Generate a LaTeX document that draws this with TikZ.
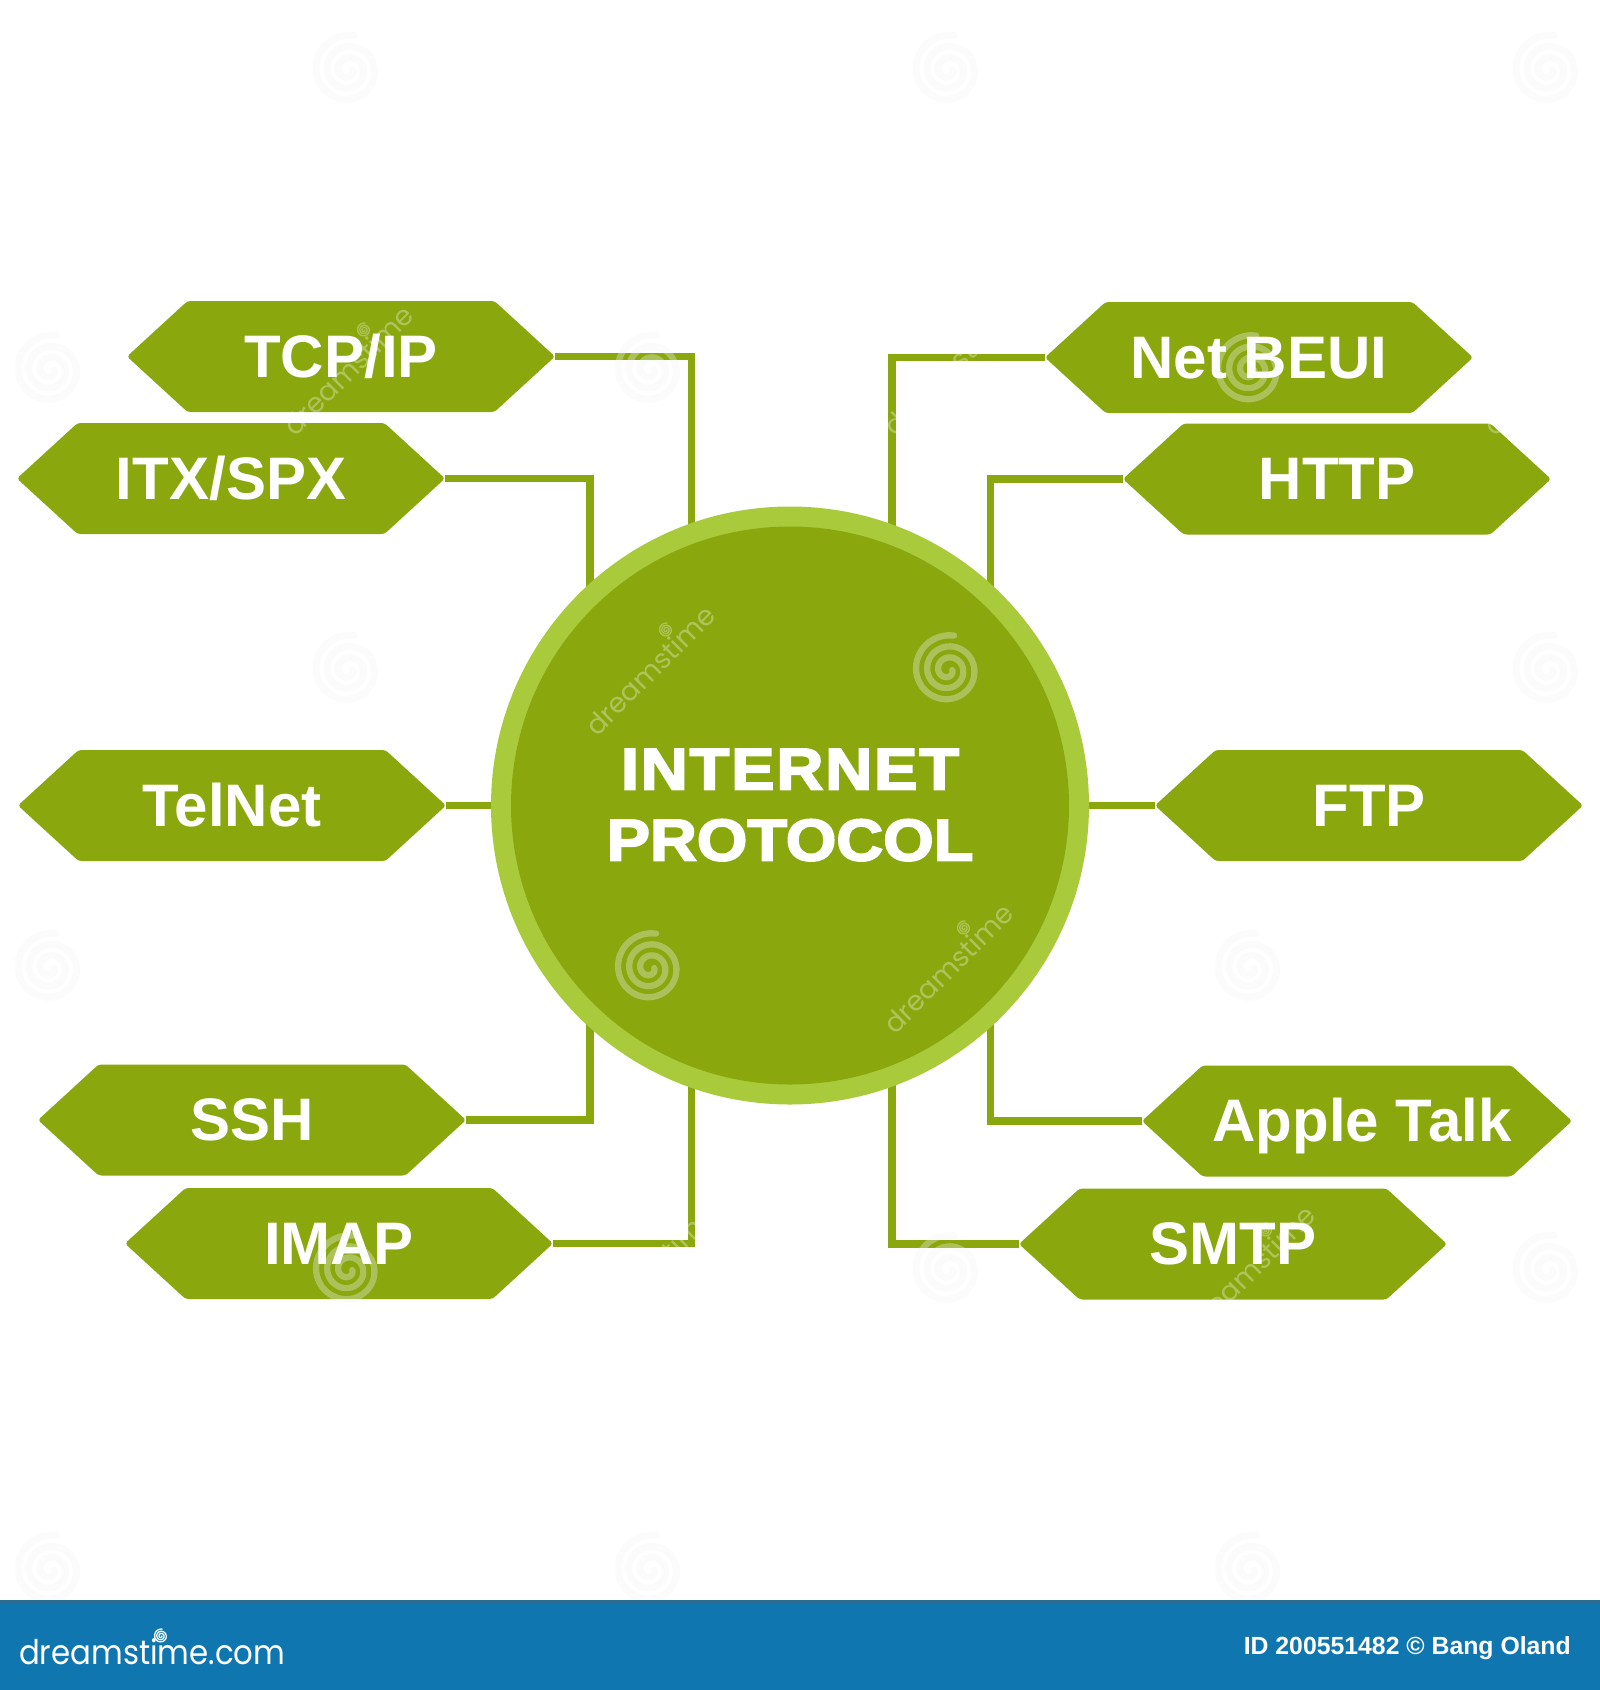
\documentclass[tikz,border=0pt]{standalone}
\usepackage{fontspec}
\setmainfont{Liberation Sans}
\newfontfamily\markfont{Poppins}
\newfontfamily\titlefont[FakeBold=3]{Liberation Sans Bold}
\usetikzlibrary{shapes.symbols,backgrounds}
\definecolor{leaf}{HTML}{8AA80E}
\definecolor{ring}{HTML}{A9CB3B}
\definecolor{band}{HTML}{0F76B0}
\definecolor{bandedge}{HTML}{2A6C92}
\newcommand{\spiralmark}[4]{%
  \draw[white,opacity=#4,line width=#3*0.18,line cap=round]
    plot[domain=0:1000,samples=90,smooth,variable=\t]
    ({#1+(#3)*(0.12+\t/1000*0.88)*cos(\t)},{#2+(#3)*(0.12+\t/1000*0.88)*sin(\t)});
}
\newcommand{\faintspiral}[3]{%
  \draw[black,opacity=0.018,line width=#3*0.2,line cap=round]
    plot[domain=0:1000,samples=90,smooth,variable=\t]
    ({#1+(#3)*(0.12+\t/1000*0.88)*cos(\t)},{#2+(#3)*(0.12+\t/1000*0.88)*sin(\t)});
  \spiralmark{#1}{#2}{#3}{0.32}
}
\newcommand{\wordmark}[2]{%
  \node[markword] at (#1,#2) {dreamstime};
  \spiralmark{#1+16}{#2-40}{7}{0.32}
}
\tikzset{
  x=1pt,y=-1pt,
  hexbox/.style={shape=signal,signal to=west and east,signal pointer angle=85,
    fill=leaf,draw=none,inner sep=0pt,minimum width=428pt,minimum height=111pt,
    text=white,text height=41pt,text depth=0pt,
    font=\fontsize{60}{60}\selectfont\bfseries,rounded corners=3pt},
  link/.style={draw=leaf,line width=7.5pt,line join=miter},
  hubring/.style={circle,fill=ring,draw=none,minimum size=598pt,inner sep=0pt},
  hubcore/.style={circle,fill=leaf,draw=none,minimum size=558pt,inner sep=0pt},
  markword/.style={rotate=45,text=white,text opacity=0.32,inner sep=0pt,
    font=\markfont\fontsize{27.5}{27.5}\selectfont},
}
\begin{document}
\begin{tikzpicture}
\useasboundingbox (0,0) rectangle (1600,1690);

% hexagons
\node[hexbox] (tcp)    at (341,356.5)  {TCP/IP};
\node[hexbox] (itx)    at (231,478.5)  {ITX/SPX};
\node[hexbox] (telnet) at (232,805.5)  {TelNet};
\node[hexbox] (ssh)    at (252,1120)   {SSH};
\node[hexbox] (imap)   at (339,1243.5) {IMAP};
\node[hexbox] (netb)   at (1259,357.5) {Net BEUI};
\node[hexbox] (http)   at (1337,479)   {HTTP};
\node[hexbox] (ftp)    at (1369,805.5) {FTP};
\node[hexbox] (apple)  at (1357,1121)  {\hspace*{10pt}Apple Talk};
\node[hexbox] (smtp)   at (1233,1244)  {SMTP};

% hub
\node[hubring] (hubouter) at (790,805.5) {};
\node[hubcore] (hub) at (790,805.5) {};
\node[text=white,align=center,xscale=1.1,font=\titlefont\fontsize{59}{71}\selectfont]
  (title) at (790,805) {\addfontfeature{LetterSpace=3}INTERNET\\PROTOCOL};

% connectors (run under the hub)
\coordinate (jtcp)   at (691.5,700);
\coordinate (jitx)   at (590,700);
\coordinate (jnetb)  at (892,700);
\coordinate (jhttp)  at (990.5,700);
\coordinate (jssh)   at (590,900);
\coordinate (jimap)  at (691.5,900);
\coordinate (japple) at (990.5,900);
\coordinate (jsmtp)  at (892,900);
\begin{scope}[on background layer]
  \fill[white] (0,0) rectangle (1600,1690);
  \draw[link] (tcp.east) -| (jtcp);
  \draw[link] (itx.east) -| (jitx);
  \draw[link] (netb.west) -| (jnetb);
  \draw[link] (http.west) -| (jhttp);
  \draw[link] (ssh.east) -| (jssh);
  \draw[link] (imap.east) -| (jimap);
  \draw[link] (apple.west) -| (japple);
  \draw[link] (smtp.west) -| (jsmtp);
  \draw[link] (telnet.east) -- (hub);
  \draw[link] (ftp.west) -- (hub);
\end{scope}

% tiled mark
\begin{scope}
\clip (0,0) rectangle (1600,1600);
\foreach \y in {70,670,1270} {
  \foreach \x in {348,948,1548} {\faintspiral{\x}{\y}{35}}
  \foreach \x in {50,650,1250} {\wordmark{\x}{\y}}
}
\foreach \y in {370,968,1570} {
  \foreach \x in {50,650,1250} {\faintspiral{\x}{\y}{35}}
  \foreach \x in {348,948,1548} {\wordmark{\x}{\y}}
}
\end{scope}

% footer band
\fill[band] (0,1600) rectangle (1600,1690);
\fill[bandedge] (0,1600) rectangle (1600,1603);
\node[anchor=base west,inner sep=0pt,text=white,xscale=0.905,font=\markfont\fontsize{34}{34}\selectfont]
  (site) at (19,1664) {dreamstime.com};
\spiralmark{161}{1636}{7}{1}
\node[anchor=base east,inner sep=0pt,text=white,font=\fontsize{24.8}{24.8}\selectfont\bfseries]
  (credit) at (1571,1654) {ID 200551482 © Bang Oland};
\end{tikzpicture}
\end{document}
